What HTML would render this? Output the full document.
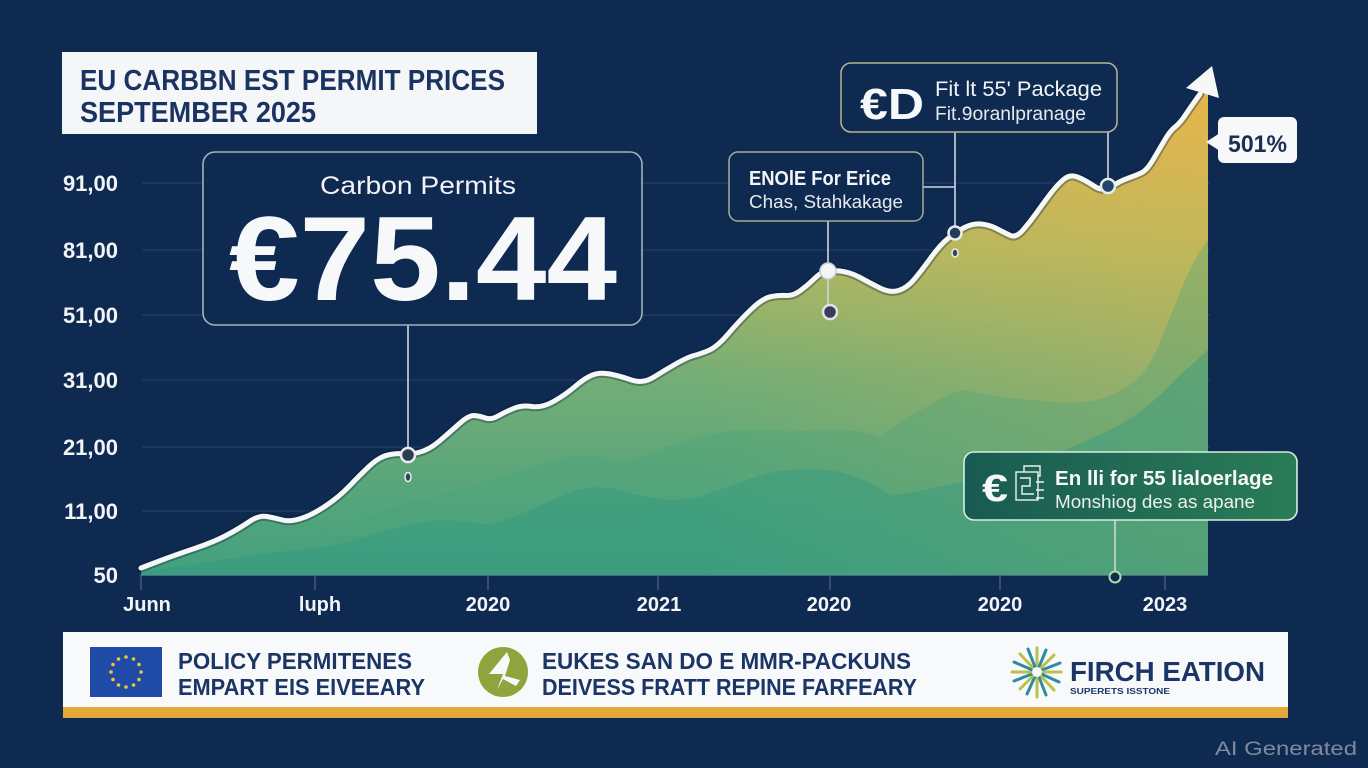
<!DOCTYPE html>
<html><head><meta charset="utf-8"><style>
html,body{margin:0;padding:0;background:#0f2a51;overflow:hidden;}
svg{display:block;}
text{font-family:"Liberation Sans",sans-serif;}
</style></head><body>
<svg width="1368" height="768" viewBox="0 0 1368 768" xmlns="http://www.w3.org/2000/svg">
<defs>
<linearGradient id="vg" x1="0" y1="90" x2="0" y2="575" gradientUnits="userSpaceOnUse">
<stop offset="0" stop-color="#e7b64b"/>
<stop offset="0.35" stop-color="#abb763"/>
<stop offset="0.6" stop-color="#73ad76"/>
<stop offset="1" stop-color="#42a07f"/>
</linearGradient>
<linearGradient id="hg" x1="700" y1="0" x2="1208" y2="0" gradientUnits="userSpaceOnUse">
<stop offset="0" stop-color="#e6b64c" stop-opacity="0"/>
<stop offset="1" stop-color="#e6b64c" stop-opacity="0.35"/>
</linearGradient>
<linearGradient id="gbox" x1="0" y1="0" x2="1" y2="0">
<stop offset="0" stop-color="#195a52"/>
<stop offset="1" stop-color="#2a7c56"/>
</linearGradient>
<clipPath id="areaClip">
<path d="M141,575 L141,568 L158,561.5 Q175,555 194.5,548.5 Q214,542 227,535 Q240,528 249.5,521.5 Q259,515 267,516.5 Q275,518 282.5,520 Q290,522 301,518.5 Q312,515 325.5,506 Q339,497 349.5,486 Q360,475 369.5,466 Q379,457 388,455 Q397,453 402.5,454 Q408,455 418.5,452.5 Q429,450 439.5,441 Q450,432 459.5,423.5 Q469,415 474.5,415.5 Q480,416 485.5,418 Q491,420 498,416 Q505,412 513.5,408.5 Q522,405 532,406.5 Q542,408 553.5,401.5 Q565,395 575,386.5 Q585,378 592.5,375 Q600,372 610,374 Q620,376 631.5,380 Q643,384 654,377 Q665,370 676.5,363.5 Q688,357 694,355.5 Q700,354 708.5,350.5 Q717,347 728.5,333.5 Q740,320 751.5,309 Q763,298 771.5,296.5 Q780,295 786.5,295.5 Q793,296 800.5,290.5 Q808,285 814,279 Q820,273 825,271.5 Q830,270 840,271 Q850,272 860,277.5 Q870,283 880,288 Q890,293 898.5,290.5 Q907,288 914.5,279 Q922,270 931,257.5 Q940,245 948,238.5 Q956,232 964.5,227.5 Q973,223 981.5,224 Q990,225 997.5,229 Q1005,233 1010.5,235.5 Q1016,238 1023,230 Q1030,222 1036,213.5 Q1042,205 1049.5,195 Q1057,185 1063.5,179.5 Q1070,174 1077.5,177 Q1085,180 1094,186 Q1103,192 1111.5,186.5 Q1120,181 1128.5,178 Q1137,175 1142,172.5 Q1147,170 1153.5,159 Q1160,148 1165,139.5 Q1170,131 1175,127 Q1180,123 1185,115.5 Q1190,108 1195,101 L1200,94 L1206,90 L1208,92 L1208,575 Z"/>
</clipPath>
</defs>

<rect width="1368" height="768" fill="#0f2a51"/>

<!-- gridlines -->
<g stroke="#223f6a" stroke-width="1.2">
<line x1="142" y1="183" x2="1210" y2="183"/>
<line x1="142" y1="250" x2="1210" y2="250"/>
<line x1="142" y1="315" x2="1210" y2="315"/>
<line x1="142" y1="380" x2="1210" y2="380"/>
<line x1="142" y1="447" x2="1210" y2="447"/>
<line x1="142" y1="511" x2="1210" y2="511"/>
</g>

<!-- area fill -->
<g clip-path="url(#areaClip)">
<rect x="130" y="60" width="1090" height="520" fill="url(#vg)"/>
<rect x="130" y="60" width="1090" height="520" fill="url(#hg)"/>
<path d="M141,575 L141,569 Q200,560 250,552 Q300,540 340,528 Q380,512 420,500 Q460,488 500,478 Q530,468 560,458 Q595,452 625,463 Q660,448 700,437 Q735,428 765,430 Q800,432 828,430 Q860,428 880,437 Q905,418 930,405 Q950,392 965,390 Q1000,398 1033,400 Q1060,404 1085,402 Q1115,398 1136,380 Q1152,365 1161,340 Q1175,305 1185,280 Q1196,255 1208,240 L1208,575 Z" fill="#4aa27c" opacity="0.35"/>
<path d="M141,575 L141,572 Q170,567 200,563 Q235,558 268,553 Q300,550 330,546 Q355,540 380,533 Q400,526 424,522 Q445,519 460,521 Q476,523 491,525 Q515,517 540,506 Q560,496 580,489 Q600,485 620,490 Q645,498 670,500 Q685,500 700,497 Q730,485 764,474 Q795,467 828,470 Q860,474 892,496 Q925,490 956,483 Q985,475 1010,468 Q1035,460 1060,452 Q1090,440 1120,425 Q1145,410 1165,390 Q1185,370 1208,350 L1208,575 Z" fill="#2e9882" opacity="0.4"/>
</g>

<!-- baseline & ticks -->
<line x1="140" y1="575.5" x2="1208" y2="575.5" stroke="#4d6688" stroke-width="1"/>
<g stroke="#4d6688" stroke-width="1.2">
<line x1="141" y1="576" x2="141" y2="590"/>
<line x1="315" y1="576" x2="315" y2="590"/>
<line x1="488" y1="576" x2="488" y2="590"/>
<line x1="658" y1="576" x2="658" y2="590"/>
<line x1="830" y1="576" x2="830" y2="590"/>
<line x1="1000" y1="576" x2="1000" y2="590"/>
<line x1="1165" y1="576" x2="1165" y2="590"/>
</g>

<!-- main curve -->
<g fill="none" stroke-linejoin="round" stroke-linecap="round">
<path id="curve" d="M141,568 L158,561.5 Q175,555 194.5,548.5 Q214,542 227,535 Q240,528 249.5,521.5 Q259,515 267,516.5 Q275,518 282.5,520 Q290,522 301,518.5 Q312,515 325.5,506 Q339,497 349.5,486 Q360,475 369.5,466 Q379,457 388,455 Q397,453 402.5,454 Q408,455 418.5,452.5 Q429,450 439.5,441 Q450,432 459.5,423.5 Q469,415 474.5,415.5 Q480,416 485.5,418 Q491,420 498,416 Q505,412 513.5,408.5 Q522,405 532,406.5 Q542,408 553.5,401.5 Q565,395 575,386.5 Q585,378 592.5,375 Q600,372 610,374 Q620,376 631.5,380 Q643,384 654,377 Q665,370 676.5,363.5 Q688,357 694,355.5 Q700,354 708.5,350.5 Q717,347 728.5,333.5 Q740,320 751.5,309 Q763,298 771.5,296.5 Q780,295 786.5,295.5 Q793,296 800.5,290.5 Q808,285 814,279 Q820,273 825,271.5 Q830,270 840,271 Q850,272 860,277.5 Q870,283 880,288 Q890,293 898.5,290.5 Q907,288 914.5,279 Q922,270 931,257.5 Q940,245 948,238.5 Q956,232 964.5,227.5 Q973,223 981.5,224 Q990,225 997.5,229 Q1005,233 1010.5,235.5 Q1016,238 1023,230 Q1030,222 1036,213.5 Q1042,205 1049.5,195 Q1057,185 1063.5,179.5 Q1070,174 1077.5,177 Q1085,180 1094,186 Q1103,192 1111.5,186.5 Q1120,181 1128.5,178 Q1137,175 1142,172.5 Q1147,170 1153.5,159 Q1160,148 1165,139.5 Q1170,131 1175,127 Q1180,123 1185,115.5 Q1190,108 1195,101 L1200,94" stroke="#0a1f3d" stroke-opacity="0.35" stroke-width="9"/>
<path d="M141,568 L158,561.5 Q175,555 194.5,548.5 Q214,542 227,535 Q240,528 249.5,521.5 Q259,515 267,516.5 Q275,518 282.5,520 Q290,522 301,518.5 Q312,515 325.5,506 Q339,497 349.5,486 Q360,475 369.5,466 Q379,457 388,455 Q397,453 402.5,454 Q408,455 418.5,452.5 Q429,450 439.5,441 Q450,432 459.5,423.5 Q469,415 474.5,415.5 Q480,416 485.5,418 Q491,420 498,416 Q505,412 513.5,408.5 Q522,405 532,406.5 Q542,408 553.5,401.5 Q565,395 575,386.5 Q585,378 592.5,375 Q600,372 610,374 Q620,376 631.5,380 Q643,384 654,377 Q665,370 676.5,363.5 Q688,357 694,355.5 Q700,354 708.5,350.5 Q717,347 728.5,333.5 Q740,320 751.5,309 Q763,298 771.5,296.5 Q780,295 786.5,295.5 Q793,296 800.5,290.5 Q808,285 814,279 Q820,273 825,271.5 Q830,270 840,271 Q850,272 860,277.5 Q870,283 880,288 Q890,293 898.5,290.5 Q907,288 914.5,279 Q922,270 931,257.5 Q940,245 948,238.5 Q956,232 964.5,227.5 Q973,223 981.5,224 Q990,225 997.5,229 Q1005,233 1010.5,235.5 Q1016,238 1023,230 Q1030,222 1036,213.5 Q1042,205 1049.5,195 Q1057,185 1063.5,179.5 Q1070,174 1077.5,177 Q1085,180 1094,186 Q1103,192 1111.5,186.5 Q1120,181 1128.5,178 Q1137,175 1142,172.5 Q1147,170 1153.5,159 Q1160,148 1165,139.5 Q1170,131 1175,127 Q1180,123 1185,115.5 Q1190,108 1195,101 L1200,94" stroke="#f6f7f7" stroke-width="5"/>
</g>
<polygon points="1212,66 1186,88 1219,98" fill="#f6f7f7"/>

<!-- connectors -->
<g stroke="#cfd6dd" stroke-width="1.6" fill="none">
<line x1="408" y1="325" x2="408" y2="448"/>
<line x1="828" y1="221" x2="828" y2="263"/>
<line x1="828" y1="279" x2="828" y2="305"/>
<line x1="923" y1="187" x2="955" y2="187"/>
<line x1="955" y1="132" x2="955" y2="226"/>
<line x1="1108" y1="132" x2="1108" y2="179"/>
<line x1="1115" y1="520" x2="1115" y2="571"/>
</g>

<!-- markers -->
<circle cx="408" cy="455" r="7" fill="#2c3d4f" stroke="#e8ecee" stroke-width="2.5"/>
<ellipse cx="408" cy="477" rx="3" ry="4.5" fill="#2c4a5a" stroke="#e8ecee" stroke-width="1.5"/>
<circle cx="828" cy="271" r="8" fill="#f4f5f5" stroke="#c8ced2" stroke-width="1.5"/>
<circle cx="830" cy="312" r="7" fill="#3a3d58" stroke="#dfe3e5" stroke-width="2.5"/>
<circle cx="955" cy="233" r="6.5" fill="#233a5a" stroke="#e8ecee" stroke-width="2.5"/>
<ellipse cx="955" cy="253" rx="3" ry="4" fill="#2c4a5a" stroke="#e8ecee" stroke-width="1.5"/>
<circle cx="1108" cy="186" r="7" fill="#23456a" stroke="#e8ecee" stroke-width="2.5"/>
<circle cx="1115" cy="577" r="5.5" fill="#0f2a51" stroke="#a8dca8" stroke-width="2"/>

<!-- title box -->
<rect x="62" y="52" width="475" height="82" fill="#f5f6f8"/>
<text x="80" y="90" font-size="29" font-weight="bold" fill="#1b3362" textLength="425" lengthAdjust="spacingAndGlyphs">EU CARBBN EST PERMIT PRICES</text>
<text x="80" y="122" font-size="29" font-weight="bold" fill="#1b3362" textLength="236" lengthAdjust="spacingAndGlyphs">SEPTEMBER 2025</text>

<!-- y labels -->
<g font-size="22" font-weight="bold" fill="#f2f4f7" text-anchor="end">
<text x="118" y="191">91,00</text>
<text x="118" y="258">81,00</text>
<text x="118" y="323">51,00</text>
<text x="118" y="388">31,00</text>
<text x="118" y="455">21,00</text>
<text x="118" y="519">11,00</text>
<text x="118" y="583">50</text>
</g>

<!-- x labels -->
<g font-size="20" font-weight="bold" fill="#f2f4f7" text-anchor="middle">
<text x="147" y="611">Junn</text>
<text x="320" y="611">luph</text>
<text x="488" y="611">2020</text>
<text x="659" y="611">2021</text>
<text x="829" y="611">2020</text>
<text x="1000" y="611">2020</text>
<text x="1165" y="611">2023</text>
</g>

<!-- big callout -->
<rect x="203" y="152" width="439" height="173" rx="12" fill="#0f2a51" stroke="#9db3bf" stroke-width="1.6"/>
<text x="320" y="194" font-size="25" fill="#f2f4f7" textLength="196" lengthAdjust="spacingAndGlyphs">Carbon Permits</text>
<text x="229" y="300" font-size="120" font-weight="bold" fill="#f7f8f9" textLength="388" lengthAdjust="spacingAndGlyphs">€75.44</text>

<!-- ENOIE callout -->
<rect x="729" y="152" width="194" height="69" rx="9" fill="#0f2a51" stroke="#a7ac95" stroke-width="1.5"/>
<text x="749" y="185" font-size="20" font-weight="bold" fill="#f2f4f7" textLength="142" lengthAdjust="spacingAndGlyphs">ENOlE For Erice</text>
<text x="749" y="208" font-size="18" fill="#e6eaee" textLength="154" lengthAdjust="spacingAndGlyphs">Chas, Stahkakage</text>

<!-- Fit callout -->
<rect x="841" y="63" width="276" height="69" rx="10" fill="#0f2a51" stroke="#b9b592" stroke-width="1.5"/>
<text x="860" y="119" font-size="44" font-weight="bold" fill="#f7f8f9" textLength="64" lengthAdjust="spacingAndGlyphs">€D</text>
<text x="935" y="96" font-size="21" fill="#f2f4f7" textLength="167" lengthAdjust="spacingAndGlyphs">Fit lt 55' Package</text>
<text x="935" y="120" font-size="19" fill="#e6eaee" textLength="151" lengthAdjust="spacingAndGlyphs">Fit.9oranlpranage</text>

<!-- 501% -->
<polygon points="1206,142 1220,133 1220,151" fill="#f7f8f9"/>
<rect x="1218" y="117" width="79" height="46" rx="6" fill="#f7f8f9"/>
<text x="1228" y="152" font-size="24" font-weight="bold" fill="#1b2f55" textLength="59" lengthAdjust="spacingAndGlyphs">501%</text>

<!-- bottom-right callout -->
<rect x="964" y="452" width="333" height="68" rx="10" fill="url(#gbox)" stroke="#d6eedf" stroke-width="1.6"/>
<text x="982" y="501" font-size="38" font-weight="bold" fill="#f7f8f9" textLength="26" lengthAdjust="spacingAndGlyphs">€</text>
<g fill="none" stroke="#eef3f0" stroke-width="1.4">
<rect x="1016" y="472" width="22" height="28"/>
<path d="M1024,472 L1024,466 L1040,466 L1040,476 L1038,476"/>
<path d="M1020,478 L1030,478 L1030,486 L1022,486 L1022,494 L1034,494"/>
<path d="M1036,482 L1044,482 M1036,490 L1044,490 M1036,498 L1044,498"/>
</g>
<text x="1055" y="485" font-size="20" font-weight="bold" fill="#f7f8f9" textLength="218" lengthAdjust="spacingAndGlyphs">En lli for 55 lialoerlage</text>
<text x="1055" y="508" font-size="18" fill="#eaf1ec" textLength="200" lengthAdjust="spacingAndGlyphs">Monshiog des as apane</text>

<!-- footer -->
<rect x="63" y="632" width="1225" height="76" fill="#f8f9fa"/>
<rect x="63" y="707" width="1225" height="11" fill="#e3a93a"/>

<!-- EU flag -->
<rect x="90" y="647" width="72" height="50" fill="#1f4aa8"/>
<g fill="#e8c934">
<circle cx="126" cy="657" r="1.8"/><circle cx="133.5" cy="659" r="1.8"/><circle cx="139" cy="664.5" r="1.8"/>
<circle cx="141" cy="672" r="1.8"/><circle cx="139" cy="679.5" r="1.8"/><circle cx="133.5" cy="685" r="1.8"/>
<circle cx="126" cy="687" r="1.8"/><circle cx="118.5" cy="685" r="1.8"/><circle cx="113" cy="679.5" r="1.8"/>
<circle cx="111" cy="672" r="1.8"/><circle cx="113" cy="664.5" r="1.8"/><circle cx="118.5" cy="659" r="1.8"/>
</g>
<g font-size="23" font-weight="bold" fill="#1a3566">
<text x="178" y="669" textLength="234" lengthAdjust="spacingAndGlyphs">POLICY PERMITENES</text>
<text x="178" y="695" textLength="247" lengthAdjust="spacingAndGlyphs">EMPART EIS EIVEEARY</text>
<text x="542" y="669" textLength="369" lengthAdjust="spacingAndGlyphs">EUKES SAN DO E MMR-PACKUNS</text>
<text x="542" y="695" textLength="375" lengthAdjust="spacingAndGlyphs">DEIVESS FRATT REPINE FARFEARY</text>
</g>

<!-- green circle logo -->
<circle cx="503" cy="672" r="25" fill="#8ea43c"/>
<path d="M507,652 L489,674 L503,674 L497,690 L503,679 L516,686 L520,680 L505,676 L510,660 Z" fill="#f8f9fa"/>

<!-- burst logo -->
<g stroke-width="3" stroke-linecap="round">
<line x1="1037" y1="672" x2="1037" y2="648" stroke="#b8c24a"/>
<line x1="1037" y1="672" x2="1046" y2="650" stroke="#2f8ba0"/>
<line x1="1037" y1="672" x2="1054" y2="655" stroke="#b8c24a"/>
<line x1="1037" y1="672" x2="1060" y2="663" stroke="#2f8ba0"/>
<line x1="1037" y1="672" x2="1061" y2="672" stroke="#b8c24a"/>
<line x1="1037" y1="672" x2="1059" y2="682" stroke="#2f8ba0"/>
<line x1="1037" y1="672" x2="1054" y2="690" stroke="#b8c24a"/>
<line x1="1037" y1="672" x2="1046" y2="695" stroke="#2f8ba0"/>
<line x1="1037" y1="672" x2="1037" y2="697" stroke="#b8c24a"/>
<line x1="1037" y1="672" x2="1027" y2="694" stroke="#2f8ba0"/>
<line x1="1037" y1="672" x2="1020" y2="689" stroke="#b8c24a"/>
<line x1="1037" y1="672" x2="1014" y2="681" stroke="#2f8ba0"/>
<line x1="1037" y1="672" x2="1012" y2="672" stroke="#b8c24a"/>
<line x1="1037" y1="672" x2="1014" y2="662" stroke="#2f8ba0"/>
<line x1="1037" y1="672" x2="1020" y2="654" stroke="#b8c24a"/>
<line x1="1037" y1="672" x2="1028" y2="649" stroke="#2f8ba0"/>
</g>
<circle cx="1037" cy="672" r="5" fill="#f8f9fa"/>
<text x="1070" y="681" font-size="28" font-weight="bold" fill="#1a3566" textLength="195" lengthAdjust="spacingAndGlyphs">FIRCH EATION</text>
<text x="1070" y="694" font-size="8" font-weight="bold" fill="#1a3566" textLength="100" lengthAdjust="spacingAndGlyphs">SUPERETS ISSTONE</text>

<!-- watermark -->
<text x="1215" y="755" font-size="19" fill="#7e8b9e" textLength="142" lengthAdjust="spacingAndGlyphs">AI Generated</text>
</svg>
</body></html>
